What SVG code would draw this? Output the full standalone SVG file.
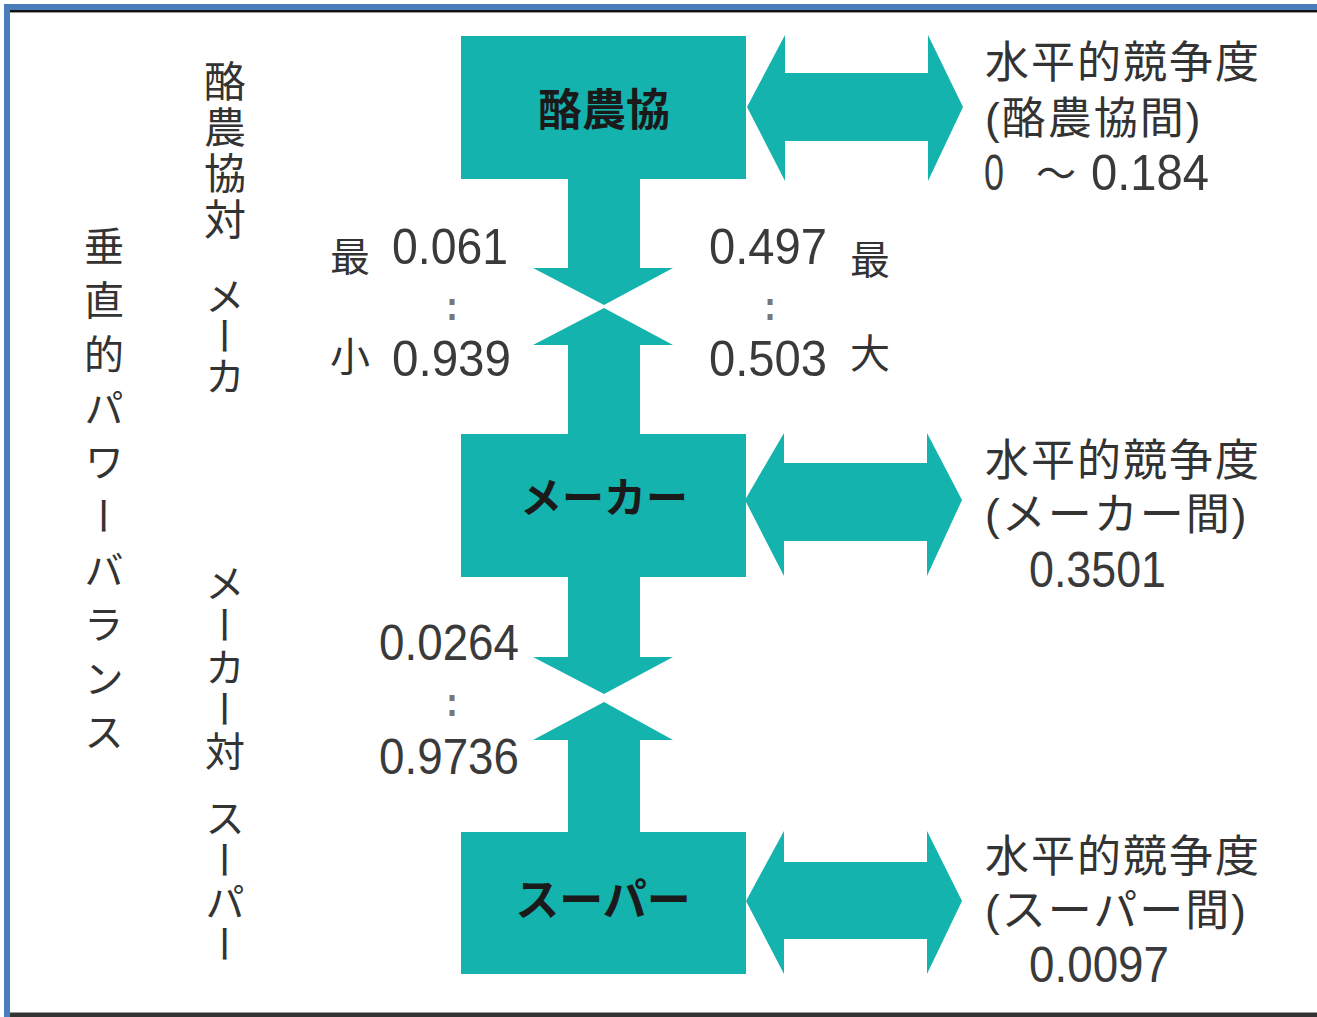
<svg xmlns="http://www.w3.org/2000/svg" width="1317" height="1017" viewBox="0 0 1317 1017">
<style>
.teal{fill:#15B3AD}
.lbl{font-family:"Noto Sans CJK JP","Noto Sans CJK SC",sans-serif;font-weight:bold;fill:#1a1a1a;text-anchor:middle}
.jp{font-family:"Noto Sans CJK JP","Noto Sans CJK SC",sans-serif;fill:#333}
.rt{font-family:"Liberation Sans","Noto Sans CJK JP","Noto Sans CJK SC",sans-serif;fill:#333;font-size:44px;letter-spacing:2px}
.num{font-family:"Liberation Sans","Noto Sans",sans-serif;font-size:50px;fill:#3a3a3a}
.vert{font-family:"Noto Sans CJK JP","Noto Sans CJK SC",sans-serif;fill:#333;writing-mode:vertical-rl}
.dots{font-family:"DejaVu Sans Mono",monospace;font-size:40px;fill:#777;text-anchor:middle}
</style>
<rect x="0" y="0" width="1317" height="1017" fill="#ffffff"/>
<g id="frame">
<rect x="4" y="4" width="1313" height="6" fill="#4A7EBB"/>
<rect x="4" y="4" width="6" height="1013" fill="#4A7EBB"/>
<rect x="10" y="10" width="1307" height="2" fill="#111"/>
<rect x="10" y="12" width="1307" height="1" fill="#999"/>
<rect x="10" y="1012" width="1307" height="1" fill="#999"/>
<rect x="10" y="1013" width="1307" height="4" fill="#333"/>
</g>
<g id="connectors">
<polygon class="teal" points="568,170 640,170 640,268 673,268 604,305 533,268 568,268"/>
<polygon class="teal" points="604,308 673,345 640,345 640,445 568,445 568,345 533,345"/>
<polygon class="teal" points="568,570 640,570 640,657 673,657 604,694 533,657 568,657"/>
<polygon class="teal" points="604,702 673,740 640,740 640,840 568,840 568,740 533,740"/>
<polygon class="teal" points="747,107 785,35 785,73 928,73 928,35 963,107 928,181 928,141 785,141 785,181"/>
<polygon class="teal" points="745,500 784,433 784,463 927,463 927,433 962,500 927,576 927,541 784,541 784,576"/>
<polygon class="teal" points="746,901 784,831 784,862 927,862 927,831 962,901 927,974 927,939 784,939 784,974"/>
</g>
<g id="node-rakunokyo">
<rect class="teal" x="461" y="36" width="285" height="143"/>
<text class="lbl" x="604" y="126" font-size="44">酪農協</text>
</g>
<g id="node-maker">
<rect class="teal" x="461" y="434" width="285" height="143"/>
<text class="lbl" x="604" y="513" font-size="42">メーカー</text>
</g>
<g id="node-super">
<rect class="teal" x="461" y="832" width="285" height="142"/>
<text class="lbl" x="603" y="916" font-size="44">スーパー</text>
</g>
<g id="vertical-labels">
<text class="vert" x="104" y="226" font-size="40" letter-spacing="14">垂直的パワーバランス</text>
<text class="vert" x="225" y="60" font-size="42" letter-spacing="4">酪農協対</text>
<text class="vert" x="225" y="276" font-size="40">メーカ</text>
<text class="vert" x="225" y="563" font-size="40" letter-spacing="2">メーカー対</text>
<text class="vert" x="225" y="798" font-size="40" letter-spacing="2">スーパー</text>
</g>
<g id="vertical-values">
<text class="jp" x="330" y="271" font-size="40">最</text>
<text class="jp" x="330" y="371" font-size="40">小</text>
<text class="num" x="392" y="264" textLength="116" lengthAdjust="spacingAndGlyphs">0.061</text>
<text class="num" x="392" y="376" textLength="119" lengthAdjust="spacingAndGlyphs">0.939</text>
<text class="dots" x="452" y="320">:</text>
<text class="num" x="709" y="264" textLength="118" lengthAdjust="spacingAndGlyphs">0.497</text>
<text class="num" x="709" y="376" textLength="118" lengthAdjust="spacingAndGlyphs">0.503</text>
<text class="dots" x="770" y="320">:</text>
<text class="jp" x="850" y="274" font-size="40">最</text>
<text class="jp" x="850" y="368" font-size="40">大</text>
<text class="num" x="379" y="660" textLength="140" lengthAdjust="spacingAndGlyphs">0.0264</text>
<text class="dots" x="452" y="716">:</text>
<text class="num" x="379" y="774" textLength="140" lengthAdjust="spacingAndGlyphs">0.9736</text>
</g>
<g id="horizontal-1">
<text class="rt" x="985" y="78">水平的競争度</text>
<text class="rt" x="985" y="134">(酪農協間)</text>
<text class="num" x="984" y="190" textLength="20" lengthAdjust="spacingAndGlyphs">0</text>
<text class="jp" x="1056" y="188" font-size="40" text-anchor="middle">～</text>
<text class="num" x="1091" y="190" textLength="118" lengthAdjust="spacingAndGlyphs">0.184</text>
</g>
<g id="horizontal-2">
<text class="rt" x="985" y="476">水平的競争度</text>
<text class="rt" x="985" y="530">(メーカー間)</text>
<text class="num" x="1029" y="587" textLength="137" lengthAdjust="spacingAndGlyphs">0.3501</text>
</g>
<g id="horizontal-3">
<text class="rt" x="985" y="872">水平的競争度</text>
<text class="rt" x="985" y="926">(スーパー間)</text>
<text class="num" x="1029" y="982" textLength="140" lengthAdjust="spacingAndGlyphs">0.0097</text>
</g>
</svg>
